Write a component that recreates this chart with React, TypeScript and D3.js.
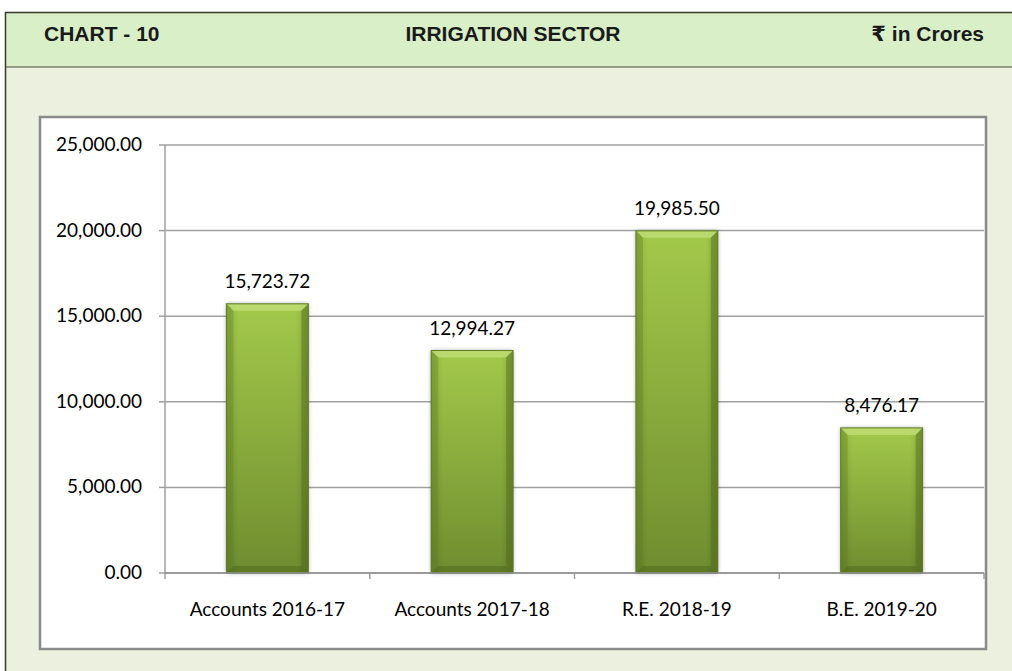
import React from "react";
import * as d3 from "d3";

const categories = ["Accounts 2016-17", "Accounts 2017-18", "R.E. 2018-19", "B.E. 2019-20"];
const values = [15723.72, 12994.27, 19985.5, 8476.17];
const yTicks = [0, 5000, 10000, 15000, 20000, 25000];

const W = 1012;
const H = 671;

export default function App() {
  const plotL = 165, plotR = 984, plotT = 145, plotB = 573;
  const x = d3.scaleBand<string>().domain(categories).range([plotL, plotR]).paddingInner(0.6).paddingOuter(0.3);
  const xb = d3.scaleBand<string>().domain(categories).range([plotL, plotR]).padding(0);
  const y = d3.scaleLinear().domain([0, 25000]).range([plotB, plotT]);
  const fmt = d3.format(",.2f");
  const font = "Lato, 'Open Sans', sans-serif";
  const hfont = "'Liberation Sans', Arial, sans-serif";
  const bev = 7;
  const fs = 19;

  return (
    <svg width={W} height={H} style={{ position: "absolute", left: 0, top: 0 }}>
      <defs>
        <linearGradient id="barG" x1="0" y1="0" x2="0" y2="1">
          <stop offset="0%" stopColor="#a3c94a" />
          <stop offset="100%" stopColor="#6f8d2f" />
        </linearGradient>
        <linearGradient id="barH" x1="0" y1="0" x2="1" y2="0">
          <stop offset="0%" stopColor="#000" stopOpacity="0.12" />
          <stop offset="15%" stopColor="#000" stopOpacity="0" />
          <stop offset="85%" stopColor="#000" stopOpacity="0" />
          <stop offset="100%" stopColor="#000" stopOpacity="0.15" />
        </linearGradient>
        <filter id="sh" x="-20%" y="-5%" width="140%" height="110%">
          <feGaussianBlur in="SourceAlpha" stdDeviation="2" />
          <feOffset dx="0" dy="0" result="b" />
          <feComponentTransfer><feFuncA type="linear" slope="0.35" /></feComponentTransfer>
          <feMerge><feMergeNode /><feMergeNode in="SourceGraphic" /></feMerge>
        </filter>
      </defs>
      <rect x={0} y={0} width={W} height={H} fill="#ffffff" />
      <rect x={5} y={12} width={W - 5} height={H - 12} fill="#ebf1de" />
      <rect x={5} y={12} width={W - 5} height={55} fill="#d8efc7" />
      <line x1={5} x2={W} y1={12.5} y2={12.5} stroke="#3a3a2a" strokeWidth={1.5} />
      <line x1={5} x2={W} y1={67} y2={67} stroke="#4a4a3a" strokeWidth={1} />
      <line x1={5.5} x2={5.5} y1={12} y2={H} stroke="#3a3a2a" strokeWidth={1.5} />
      <text x={44} y={41} fontFamily={hfont} fontWeight="bold" fontSize={21} fill="#1a1a1a">CHART - 10</text>
      <text x={513} y={41} textAnchor="middle" fontFamily={hfont} fontWeight="bold" fontSize={21} fill="#1a1a1a">IRRIGATION SECTOR</text>
      <text x={984} y={41} textAnchor="end" fontFamily={hfont} fontWeight="bold" fontSize={21} fill="#1a1a1a">
        <tspan fontFamily="'DejaVu Sans', 'Noto Sans', sans-serif">₹</tspan> in Crores
      </text>

      <rect x={40} y={117} width={946} height={532} fill="#ffffff" stroke="#8a8a8a" strokeWidth={2.5} />

      {yTicks.map((t) => (
        <g key={t}>
          <line x1={plotL} x2={plotR} y1={y(t)} y2={y(t)} stroke="#a0a0a0" strokeWidth={1.5} />
          <line x1={plotL - 6} x2={plotL} y1={y(t)} y2={y(t)} stroke="#a0a0a0" strokeWidth={1.5} />
          <text x={142} y={y(t) + 6} textAnchor="end" fontFamily={font} fontSize={fs} fill="#000">{fmt(t)}</text>
        </g>
      ))}
      <line x1={plotL} x2={plotL} y1={plotT} y2={plotB + 6} stroke="#a0a0a0" strokeWidth={1.5} />
      {categories.map((c) => (
        <line key={"t" + c} x1={(xb(c) as number) + xb.bandwidth()} x2={(xb(c) as number) + xb.bandwidth()} y1={plotB} y2={plotB + 6} stroke="#a0a0a0" strokeWidth={1.5} />
      ))}

      {categories.map((c, i) => {
        const bx = x(c) as number;
        const bw = x.bandwidth();
        const by = y(values[i]);
        const bh = plotB - by;
        return (
          <g key={c}>
            <g filter="url(#sh)">
              <rect x={bx} y={by} width={bw} height={bh} fill="url(#barG)" />
            </g>
            <rect x={bx} y={by} width={bw} height={bh} fill="url(#barH)" />
            <polygon points={`${bx},${by} ${bx + bw},${by} ${bx + bw - bev},${by + bev} ${bx + bev},${by + bev}`} fill="#c0df78" opacity={0.8} />
            <polygon points={`${bx},${by} ${bx + bev},${by + bev} ${bx + bev},${by + bh - bev} ${bx},${by + bh}`} fill="#5f7d22" opacity={0.35} />
            <polygon points={`${bx + bw},${by} ${bx + bw - bev},${by + bev} ${bx + bw - bev},${by + bh - bev} ${bx + bw},${by + bh}`} fill="#4f6a1a" opacity={0.45} />
            <polygon points={`${bx},${by + bh} ${bx + bev},${by + bh - bev} ${bx + bw - bev},${by + bh - bev} ${bx + bw},${by + bh}`} fill="#4a6418" opacity={0.45} />
            <rect x={bx} y={by} width={bw} height={bh} fill="none" stroke="#5d7a22" strokeWidth={1} />
            <text x={bx + bw / 2} y={by - 16} textAnchor="middle" fontFamily={font} fontSize={fs} fill="#000">{fmt(values[i])}</text>
            <text x={(xb(c) as number) + xb.bandwidth() / 2} y={616} textAnchor="middle" fontFamily={font} fontSize={fs} fill="#000">{c}</text>
          </g>
        );
      })}
      <line x1={plotL} x2={plotR} y1={plotB} y2={plotB} stroke="#909090" strokeWidth={1.5} />
    </svg>
  );
}
